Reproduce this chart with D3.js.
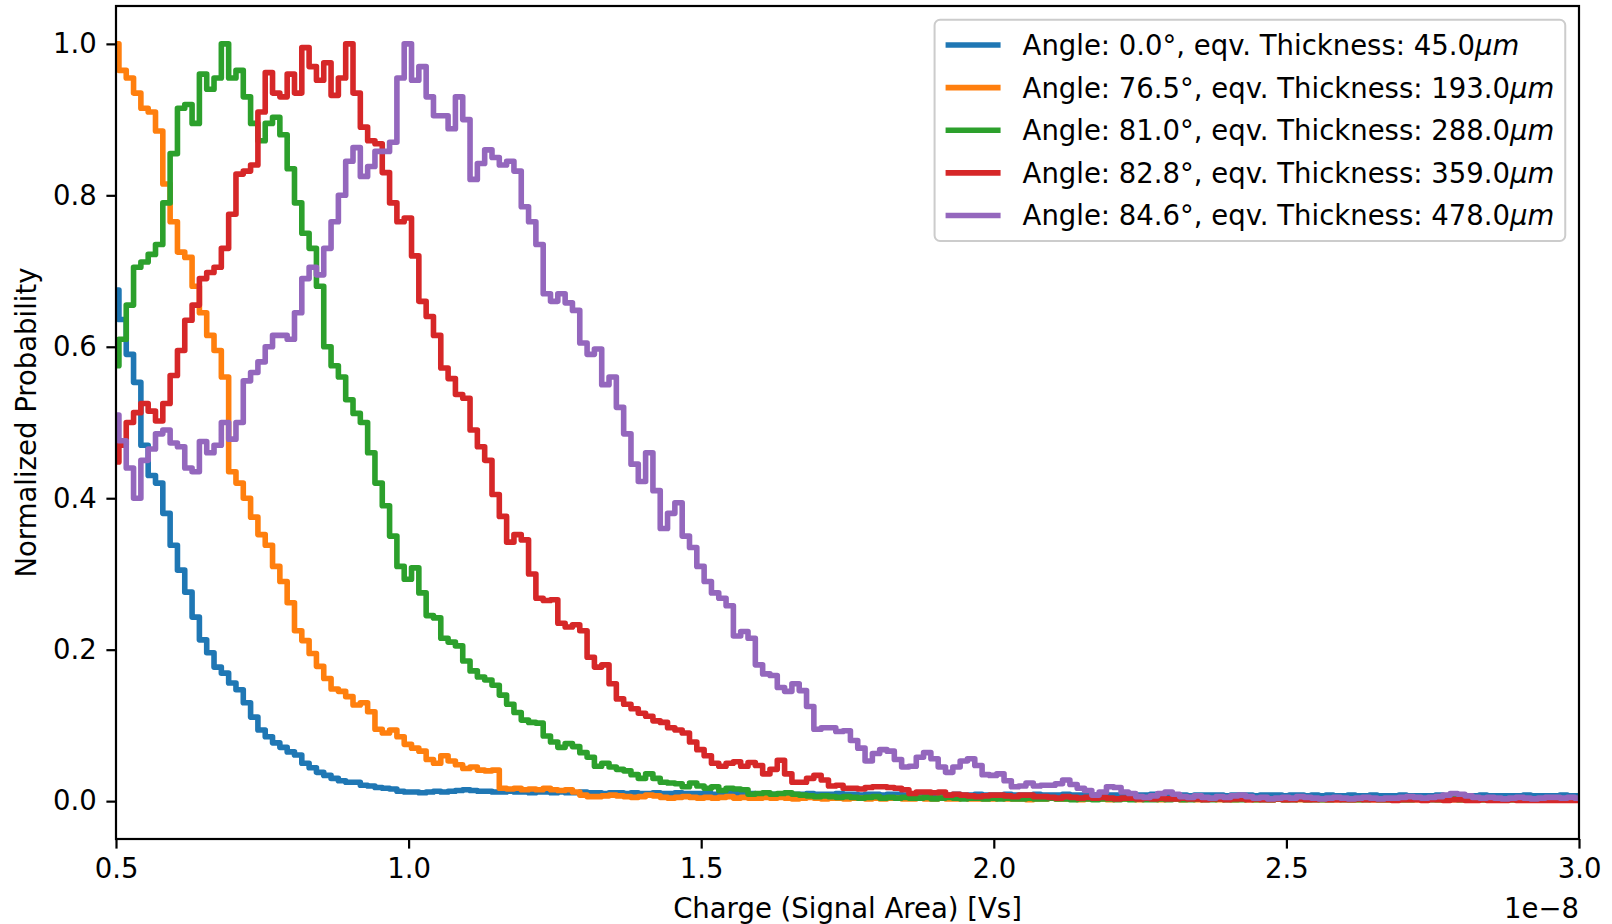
<!DOCTYPE html>
<html>
<head>
<meta charset="utf-8">
<script src="https://cdn.jsdelivr.net/npm/d3@7"></script>
<style>
  html, body { margin: 0; padding: 0; background: #ffffff; }
  svg { display: block; font-family: "DejaVu Sans", sans-serif; }
</style>
</head>
<body>
<svg id="chart" width="1612" height="924"></svg>
<script>
// Histogram bins: left edge of the first bin and bin width, in units of 1e-8 Vs
const binStart = 0.4925;
const binWidth = 0.0125;

const xTicks = [0.5, 1.0, 1.5, 2.0, 2.5, 3.0];
const yTicks = [0.0, 0.2, 0.4, 0.6, 0.8, 1.0];

const angles = [0.0, 76.5, 81.0, 82.8, 84.6];
const thicknesses = [45.0, 193.0, 288.0, 359.0, 478.0];
const colors = ["#1f77b4", "#ff7f0e", "#2ca02c", "#d62728", "#9467bd"];

// Normalized probability per bin for each incidence angle
const probAngle00 = [
  0.675, 0.636, 0.59, 0.553, 0.47, 0.43, 0.42, 0.38, 0.338, 0.305,
  0.276, 0.243, 0.213, 0.196, 0.177, 0.169, 0.156, 0.147, 0.13, 0.111,
  0.094, 0.085, 0.077, 0.071, 0.065, 0.061, 0.05, 0.044, 0.038, 0.034,
  0.03, 0.027, 0.025, 0.025, 0.021, 0.02, 0.018, 0.017, 0.016, 0.013,
  0.012, 0.012, 0.011, 0.012, 0.013, 0.012, 0.013, 0.014, 0.015, 0.014,
  0.013, 0.013, 0.012, 0.012, 0.013, 0.012, 0.012, 0.011, 0.012, 0.012,
  0.011, 0.012, 0.011, 0.011, 0.012, 0.011, 0.011, 0.010, 0.011, 0.011,
  0.010, 0.011, 0.010, 0.010, 0.011, 0.010, 0.010, 0.011, 0.010, 0.010,
  0.010, 0.010, 0.009, 0.010, 0.010, 0.010, 0.009, 0.010, 0.009, 0.010,
  0.009, 0.009, 0.010, 0.009, 0.009, 0.010, 0.009, 0.009, 0.009, 0.010,
  0.009, 0.009, 0.008, 0.009, 0.009, 0.008, 0.009, 0.009, 0.008, 0.009,
  0.008, 0.009, 0.009, 0.008, 0.008, 0.009, 0.008, 0.008, 0.009, 0.008,
  0.008, 0.008, 0.009, 0.008, 0.008, 0.008, 0.009, 0.008, 0.008, 0.008,
  0.009, 0.008, 0.008, 0.008, 0.008, 0.009, 0.008, 0.008, 0.008, 0.008,
  0.008, 0.008, 0.009, 0.008, 0.008, 0.008, 0.008, 0.007, 0.008, 0.008,
  0.008, 0.008, 0.007, 0.008, 0.008, 0.008, 0.007, 0.008, 0.008, 0.008,
  0.007, 0.008, 0.008, 0.007, 0.008, 0.007, 0.008, 0.007, 0.007, 0.008,
  0.007, 0.007, 0.008, 0.007, 0.007, 0.007, 0.008, 0.007, 0.007, 0.007,
  0.007, 0.008, 0.007, 0.007, 0.007, 0.007, 0.007, 0.008, 0.007, 0.007,
  0.007, 0.007, 0.007, 0.008, 0.007, 0.007, 0.007, 0.007, 0.008, 0.007, 0.007
];

const probAngle765 = [
  1.0, 0.965, 0.955, 0.935, 0.915, 0.91, 0.885, 0.815, 0.765, 0.725,
  0.718, 0.68, 0.645, 0.615, 0.595, 0.56, 0.435, 0.42, 0.4, 0.375,
  0.352, 0.338, 0.31, 0.29, 0.262, 0.225, 0.212, 0.195, 0.178, 0.162,
  0.148, 0.145, 0.138, 0.127, 0.13, 0.118, 0.095, 0.09, 0.094, 0.085,
  0.075, 0.07, 0.066, 0.055, 0.05, 0.06, 0.053, 0.048, 0.043, 0.045,
  0.041, 0.04, 0.041, 0.017, 0.016, 0.017, 0.015, 0.016, 0.015, 0.017,
  0.015, 0.014, 0.015, 0.012, 0.008, 0.006, 0.006, 0.007, 0.008, 0.007,
  0.006, 0.005, 0.006, 0.008, 0.007, 0.005, 0.004, 0.005, 0.006, 0.005,
  0.004, 0.005, 0.004, 0.005, 0.006, 0.004, 0.005, 0.004, 0.004, 0.005,
  0.004, 0.005, 0.004, 0.003, 0.004, 0.005, 0.004, 0.003, 0.004, 0.004,
  0.003, 0.004, 0.004, 0.003, 0.004, 0.003, 0.004, 0.004, 0.003, 0.003,
  0.004, 0.003, 0.003, 0.004, 0.003, 0.003, 0.004, 0.003, 0.003, 0.003,
  0.003, 0.004, 0.003, 0.003, 0.003, 0.002, 0.003, 0.003, 0.004, 0.003,
  0.003, 0.003, 0.002, 0.003, 0.003, 0.003, 0.002, 0.003, 0.003, 0.003,
  0.002, 0.003, 0.003, 0.002, 0.003, 0.003, 0.002, 0.003, 0.002, 0.003,
  0.003, 0.002, 0.003, 0.002, 0.003, 0.002, 0.002, 0.003, 0.002, 0.003,
  0.002, 0.003, 0.002, 0.002, 0.003, 0.002, 0.002, 0.002, 0.003, 0.002,
  0.002, 0.003, 0.002, 0.002, 0.002, 0.003, 0.002, 0.002, 0.002, 0.002,
  0.003, 0.002, 0.002, 0.002, 0.002, 0.002, 0.003, 0.002, 0.002, 0.002,
  0.002, 0.002, 0.003, 0.002, 0.002, 0.002, 0.002, 0.002, 0.003, 0.002, 0.002
];

const probAngle810 = [
  0.575, 0.61, 0.655, 0.705, 0.712, 0.722, 0.735, 0.79, 0.855, 0.915,
  0.92, 0.895, 0.96, 0.94, 0.955, 1.0, 0.955, 0.965, 0.93, 0.895,
  0.872, 0.895, 0.903, 0.88, 0.835, 0.79, 0.75, 0.73, 0.68, 0.6,
  0.575, 0.56, 0.53, 0.512, 0.5, 0.46, 0.42, 0.39, 0.35, 0.31,
  0.293, 0.308, 0.275, 0.245, 0.242, 0.215, 0.21, 0.205, 0.185, 0.172,
  0.164, 0.16, 0.153, 0.14, 0.128, 0.117, 0.107, 0.104, 0.103, 0.086,
  0.078, 0.071, 0.076, 0.072, 0.064, 0.058, 0.046, 0.05, 0.045, 0.042,
  0.04, 0.035, 0.03, 0.036, 0.03, 0.025, 0.024, 0.023, 0.019, 0.024,
  0.02, 0.017, 0.019, 0.014, 0.017, 0.016, 0.015, 0.009, 0.01, 0.011,
  0.009, 0.01, 0.011, 0.009, 0.008, 0.007, 0.006, 0.007, 0.006, 0.005,
  0.006, 0.005, 0.004, 0.005, 0.006, 0.004, 0.005, 0.004, 0.005, 0.004,
  0.004, 0.005, 0.003, 0.004, 0.005, 0.004, 0.003, 0.004, 0.004, 0.003,
  0.004, 0.003, 0.004, 0.003, 0.003, 0.004, 0.003, 0.003, 0.004, 0.003,
  0.003, 0.002, 0.003, 0.003, 0.002, 0.003, 0.003, 0.002, 0.003, 0.002,
  0.003, 0.002, 0.002, 0.003, 0.002, 0.003, 0.002, 0.002, 0.003, 0.002,
  0.002, 0.003, 0.002, 0.002, 0.002, 0.003, 0.002, 0.002, 0.002, 0.003,
  0.002, 0.002, 0.003, 0.002, 0.002, 0.002, 0.002, 0.003, 0.002, 0.002,
  0.002, 0.002, 0.003, 0.002, 0.002, 0.002, 0.002, 0.002, 0.003, 0.002,
  0.002, 0.002, 0.002, 0.003, 0.002, 0.002, 0.002, 0.002, 0.002, 0.003,
  0.002, 0.002, 0.002, 0.002, 0.003, 0.002, 0.002, 0.002, 0.002, 0.002, 0.002
];

const probAngle828 = [
  0.448, 0.47, 0.5, 0.513, 0.525, 0.515, 0.502, 0.525, 0.562, 0.595,
  0.635, 0.655, 0.69, 0.698, 0.705, 0.73, 0.775, 0.828, 0.832, 0.84,
  0.91, 0.962, 0.935, 0.93, 0.96, 0.935, 0.995, 0.97, 0.952, 0.975,
  0.932, 0.955, 1.0, 0.935, 0.89, 0.872, 0.868, 0.83, 0.79, 0.765,
  0.77, 0.72, 0.66, 0.64, 0.615, 0.572, 0.558, 0.537, 0.532, 0.49,
  0.468, 0.45, 0.405, 0.376, 0.342, 0.352, 0.345, 0.3, 0.268, 0.265,
  0.266, 0.235, 0.23, 0.233, 0.225, 0.19, 0.177, 0.18, 0.155, 0.135,
  0.128, 0.122, 0.116, 0.112, 0.106, 0.104, 0.097, 0.094, 0.09, 0.078,
  0.068, 0.06, 0.05, 0.046, 0.05, 0.052, 0.046, 0.051, 0.047, 0.036,
  0.042, 0.054, 0.036, 0.025, 0.025, 0.03, 0.034, 0.028, 0.02, 0.021,
  0.017, 0.017, 0.016, 0.018, 0.019, 0.019, 0.018, 0.017, 0.015, 0.01,
  0.012, 0.012, 0.011, 0.012, 0.008, 0.009, 0.008, 0.007, 0.006, 0.007,
  0.008, 0.008, 0.007, 0.006, 0.008, 0.008, 0.006, 0.006, 0.005, 0.004,
  0.006, 0.005, 0.004, 0.005, 0.004, 0.005, 0.004, 0.003, 0.004, 0.004,
  0.003, 0.004, 0.003, 0.004, 0.003, 0.003, 0.004, 0.003, 0.003, 0.002,
  0.003, 0.003, 0.002, 0.003, 0.003, 0.002, 0.003, 0.002, 0.002, 0.003,
  0.002, 0.002, 0.003, 0.002, 0.002, 0.003, 0.002, 0.002, 0.002, 0.002,
  0.003, 0.002, 0.002, 0.002, 0.002, 0.001, 0.002, 0.002, 0.002, 0.001,
  0.002, 0.002, 0.001, 0.002, 0.002, 0.001, 0.001, 0.002, 0.001, 0.001,
  0.001, 0.002, 0.001, 0.001, 0.001, 0.001, 0.001, 0.001, 0.001, 0.001, 0.001
];

const probAngle846 = [
  0.51, 0.476, 0.44, 0.40, 0.45, 0.465, 0.485, 0.49, 0.473, 0.468,
  0.44, 0.435, 0.475, 0.46, 0.47, 0.5, 0.478, 0.5, 0.555, 0.566,
  0.58, 0.6, 0.615, 0.615, 0.61, 0.645, 0.69, 0.705, 0.695, 0.73,
  0.765, 0.8, 0.845, 0.863, 0.825, 0.838, 0.858, 0.858, 0.87, 0.955,
  1.0, 0.952, 0.97, 0.93, 0.905, 0.905, 0.888, 0.93, 0.9, 0.821,
  0.842, 0.86, 0.85, 0.84, 0.845, 0.832, 0.785, 0.765, 0.735, 0.67,
  0.66, 0.67, 0.658, 0.648, 0.605, 0.59, 0.597, 0.55, 0.56, 0.52,
  0.485, 0.445, 0.422, 0.46, 0.41, 0.36, 0.38, 0.394, 0.35, 0.335,
  0.31, 0.29, 0.275, 0.268, 0.258, 0.218, 0.224, 0.215, 0.18, 0.168,
  0.166, 0.15, 0.145, 0.155, 0.146, 0.125, 0.095, 0.097, 0.097, 0.092,
  0.093, 0.08, 0.07, 0.053, 0.063, 0.068, 0.066, 0.055, 0.045, 0.046,
  0.058, 0.064, 0.056, 0.045, 0.038, 0.045, 0.053, 0.056, 0.047, 0.035,
  0.034, 0.036, 0.027, 0.019, 0.02, 0.024, 0.02, 0.021, 0.021, 0.023,
  0.028, 0.022, 0.017, 0.014, 0.008, 0.012, 0.019, 0.018, 0.012, 0.01,
  0.006, 0.005, 0.007, 0.01, 0.012, 0.009, 0.006, 0.005, 0.007, 0.005,
  0.004, 0.006, 0.005, 0.007, 0.008, 0.006, 0.004, 0.005, 0.003, 0.004,
  0.005, 0.004, 0.006, 0.005, 0.004, 0.003, 0.004, 0.005, 0.004, 0.003,
  0.004, 0.005, 0.004, 0.003, 0.004, 0.004, 0.005, 0.006, 0.005, 0.004,
  0.005, 0.006, 0.008, 0.01, 0.009, 0.007, 0.005, 0.004, 0.005, 0.004,
  0.003, 0.004, 0.005, 0.004, 0.003, 0.004, 0.005, 0.005, 0.004, 0.005, 0.004
];

const seriesValues = [probAngle00, probAngle765, probAngle810, probAngle828, probAngle846];

// ---- layout ----
const plot = { left: 116, right: 1579, top: 6, bottom: 839 };
const fontSize = 27.5;
const tickLen = 9.6, tickPad = 9.6;
const lineW = 5.6;

const svg = d3.select("#chart");

const x = d3.scaleLinear().domain([0.5, 3.0]).range([plot.left, plot.right]);
const y = d3.scaleLinear().domain([-0.05, 1.05]).range([plot.bottom, plot.top]);

svg.append("defs").append("clipPath").attr("id", "plot-clip")
  .append("rect")
  .attr("x", plot.left).attr("y", plot.top)
  .attr("width", plot.right - plot.left).attr("height", plot.bottom - plot.top);

// ---- step curves ----
const stepLine = d3.line()
  .x(d => x(d[0]))
  .y(d => y(d[1]))
  .curve(d3.curveStepAfter);

const curves = svg.append("g").attr("clip-path", "url(#plot-clip)");
seriesValues.forEach((vals, k) => {
  const pts = vals.map((v, i) => [binStart + i * binWidth, v]);
  pts.push([binStart + vals.length * binWidth, vals[vals.length - 1]]);
  curves.append("path")
    .datum(pts)
    .attr("d", stepLine)
    .attr("fill", "none")
    .attr("stroke", colors[k])
    .attr("stroke-width", lineW)
    .attr("stroke-linejoin", "round");
});

// ---- axes ----
const fmt = d3.format(".1f");
const xAxis = svg.append("g")
  .attr("transform", `translate(0,${plot.bottom})`)
  .call(d3.axisBottom(x).tickValues(xTicks).tickFormat(fmt).tickSize(tickLen).tickPadding(tickPad));
const yAxis = svg.append("g")
  .attr("transform", `translate(${plot.left},0)`)
  .call(d3.axisLeft(y).tickValues(yTicks).tickFormat(fmt).tickSize(tickLen).tickPadding(tickPad));

[xAxis, yAxis].forEach(g => {
  g.select(".domain").remove();
  g.selectAll(".tick line").attr("stroke", "#000").attr("stroke-width", 2.2);
  g.selectAll(".tick text")
    .attr("fill", "#000")
    .style("font-family", "'DejaVu Sans', sans-serif")
    .style("font-size", fontSize + "px");
});

// frame
svg.append("rect")
  .attr("x", plot.left).attr("y", plot.top)
  .attr("width", plot.right - plot.left).attr("height", plot.bottom - plot.top)
  .attr("fill", "none").attr("stroke", "#000").attr("stroke-width", 2.2);

// axis labels
svg.append("text")
  .attr("x", (plot.left + plot.right) / 2).attr("y", 918)
  .attr("text-anchor", "middle")
  .style("font-size", fontSize + "px")
  .text("Charge (Signal Area) [Vs]");

svg.append("text")
  .attr("x", plot.right).attr("y", 918)
  .attr("text-anchor", "end")
  .style("font-size", fontSize + "px")
  .text("1e\u22128");

svg.append("text")
  .attr("transform", `translate(36,${(plot.top + plot.bottom) / 2}) rotate(-90)`)
  .attr("text-anchor", "middle")
  .style("font-size", fontSize + "px")
  .text("Normalized Probability");

// ---- legend ----
const legend = svg.append("g");
const frame = legend.append("rect");
const legRight = plot.right - 13.75, legTop = plot.top + 13.75;
const pad = 11, handleLen = 55, handlePad = 22, rowStep = 42.6;
const firstRowY = legTop + pad + 14.3;

const texts = [];
angles.forEach((a, k) => {
  const t = legend.append("text")
    .attr("y", firstRowY + k * rowStep)
    .attr("dy", "0.36em")
    .style("font-size", fontSize + "px");
  t.append("tspan").text(`Angle: ${a.toFixed(1)}\u00b0, eqv. Thickness: ${thicknesses[k].toFixed(1)}`);
  t.append("tspan").style("font-style", "italic").text("\u03bcm");
  texts.push(t);
});
const maxW = d3.max(texts, t => t.node().getComputedTextLength());
const legWidth = pad + handleLen + handlePad + maxW + pad;
const legLeft = legRight - legWidth;
const legHeight = 2 * pad + 4 * rowStep + 28.8;

texts.forEach(t => t.attr("x", legLeft + pad + handleLen + handlePad));
angles.forEach((a, k) => {
  legend.append("line")
    .attr("x1", legLeft + pad).attr("x2", legLeft + pad + handleLen)
    .attr("y1", firstRowY + k * rowStep).attr("y2", firstRowY + k * rowStep)
    .attr("stroke", colors[k]).attr("stroke-width", lineW);
});
frame
  .attr("x", legLeft).attr("y", legTop)
  .attr("width", legWidth).attr("height", legHeight)
  .attr("rx", 5.5).attr("ry", 5.5)
  .attr("fill", "#ffffff").attr("fill-opacity", 0.8)
  .attr("stroke", "#cccccc").attr("stroke-width", 2);
</script>
</body>
</html>
